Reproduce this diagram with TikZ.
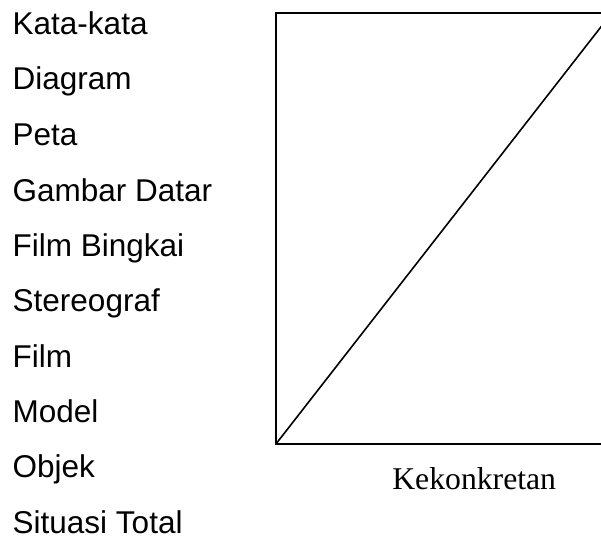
\documentclass[tikz,border=0pt]{standalone}
\usepackage{fontspec}
\setmainfont{Liberation Serif}
\setsansfont{Liberation Sans}
\begin{document}
\begin{tikzpicture}[x=1pt,y=-1pt,
  lbl/.style={font=\sffamily\fontsize{31.5}{36}\selectfont, anchor=base west, inner sep=0pt},
  axislbl/.style={font=\rmfamily\fontsize{31.7}{36}\selectfont, anchor=base, inner sep=0pt},
  frame/.style={draw=black, line width=2pt},
  diag/.style={draw=black, line width=1.6pt}]
\useasboundingbox (0,0) rectangle (601,537);
\clip (0,0) rectangle (601,537);
\fill[white] (0,0) rectangle (601,537);
\node[lbl] (l1) at (12.5,34.5) {Kata-kata};
\node[lbl] (l2) at (12.5,90) {Diagram};
\node[lbl] (l3) at (12.5,145.5) {Peta};
\node[lbl] (l4) at (12.5,201) {Gambar Datar};
\node[lbl] (l5) at (12.5,256.5) {Film Bingkai};
\node[lbl] (l6) at (12.5,311.5) {Stereograf};
\node[lbl] (l7) at (12.5,367) {Film};
\node[lbl] (l8) at (12.5,422) {Model};
\node[lbl] (l9) at (12.5,477) {Objek};
\node[lbl] (l10) at (12.5,533) {Situasi Total};
\coordinate (bl) at (275.7,444.3);
\coordinate (tr) at (612,12.7);
\draw[frame] (bl) rectangle (tr);
\draw[diag] (bl) -- (tr);
\node[axislbl] (k) at (474.2,489) {Kekonkretan};
\end{tikzpicture}
\end{document}
